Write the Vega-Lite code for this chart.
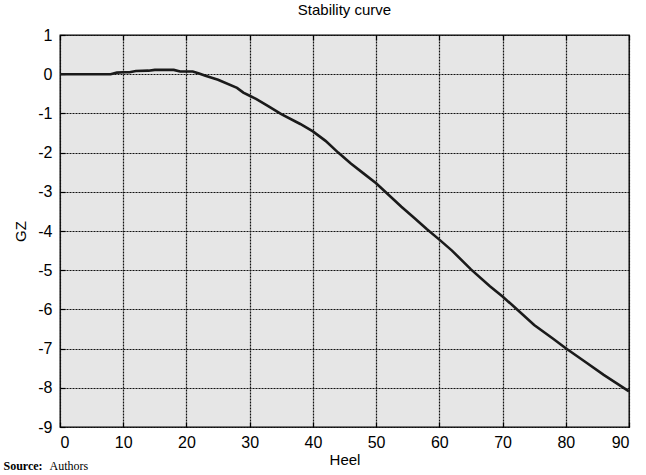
{
  "$schema": "https://vega.github.io/schema/vega-lite/v6.json",
  "autosize": "none",
  "width": 569,
  "height": 392,
  "padding": {"left": 60, "top": 35, "right": 17, "bottom": 48},
  "background": "white",
  "title": {"text": "Stability curve", "font": "Liberation Sans", "fontSize": 15, "fontWeight": "normal", "color": "black", "offset": 9, "anchor": "middle"},
  "config": {
    "view": {"fill": "#e6e6e6", "stroke": "black", "strokeWidth": 1.3},
    "axis": {"labelFont": "Liberation Sans", "labelFontSize": 16, "labelColor": "black", "titleFont": "Liberation Sans", "titleFontSize": 15, "titleFontWeight": "normal", "titleColor": "black", "grid": true, "gridColor": "#111111", "gridOpacity": 1, "gridDash": [2, 1], "gridWidth": 1.2, "domain": false, "ticks": true, "tickSize": -5, "tickColor": "black", "tickWidth": 1.2}
  },
  "data": {"values": [
    {"heel": 0, "gz": 0}, {"heel": 2, "gz": 0}, {"heel": 4, "gz": 0}, {"heel": 6, "gz": 0}, {"heel": 8, "gz": 0},
    {"heel": 9, "gz": 0.04}, {"heel": 10, "gz": 0.05}, {"heel": 11, "gz": 0.05}, {"heel": 12, "gz": 0.08}, {"heel": 14, "gz": 0.09},
    {"heel": 15, "gz": 0.11}, {"heel": 18, "gz": 0.11}, {"heel": 19, "gz": 0.07}, {"heel": 21, "gz": 0.07}, {"heel": 22, "gz": 0.02},
    {"heel": 23, "gz": -0.04}, {"heel": 25, "gz": -0.14}, {"heel": 28, "gz": -0.35}, {"heel": 29, "gz": -0.47}, {"heel": 30, "gz": -0.55},
    {"heel": 31, "gz": -0.63}, {"heel": 33, "gz": -0.82}, {"heel": 35, "gz": -1.02}, {"heel": 38, "gz": -1.27}, {"heel": 40, "gz": -1.46},
    {"heel": 42, "gz": -1.7}, {"heel": 44, "gz": -2.0}, {"heel": 46, "gz": -2.28}, {"heel": 48, "gz": -2.53}, {"heel": 50, "gz": -2.78},
    {"heel": 52, "gz": -3.08}, {"heel": 54, "gz": -3.38}, {"heel": 56, "gz": -3.66}, {"heel": 58, "gz": -3.95}, {"heel": 60, "gz": -4.22},
    {"heel": 62, "gz": -4.5}, {"heel": 65, "gz": -4.98}, {"heel": 68, "gz": -5.41}, {"heel": 70, "gz": -5.67}, {"heel": 72, "gz": -5.96},
    {"heel": 75, "gz": -6.4}, {"heel": 78, "gz": -6.75}, {"heel": 80, "gz": -6.99}, {"heel": 83, "gz": -7.33}, {"heel": 86, "gz": -7.67},
    {"heel": 88, "gz": -7.88}, {"heel": 90, "gz": -8.09}
  ]},
  "resolve": {"axis": {"x": "independent"}},
  "layer": [
    {
      "mark": {"type": "line", "color": "#1a1a1a", "strokeWidth": 2.6},
      "encoding": {
        "x": {"field": "heel", "type": "quantitative", "scale": {"domain": [0, 90], "nice": false}, "axis": {"title": "Heel", "values": [0, 10, 20, 30, 40, 50, 60, 70, 80, 90], "labelPadding": 12, "titlePadding": 2}},
        "y": {"field": "gz", "type": "quantitative", "scale": {"domain": [-9, 1], "nice": false}, "axis": {"title": "GZ", "values": [-9, -8, -7, -6, -5, -4, -3, -2, -1, 0, 1], "labelExpr": "'' + datum.value", "labelPadding": 13, "titlePadding": 9}}
      }
    },
    {
      "mark": {"type": "line", "opacity": 0},
      "encoding": {
        "x": {"field": "heel", "type": "quantitative", "axis": {"title": "Source:", "grid": false, "labels": false, "values": [0, 10, 20, 30, 40, 50, 60, 70, 80, 90], "titleFont": "Liberation Serif", "titleFontSize": 12, "titleFontWeight": "bold", "titleAnchor": "start", "titleAlign": "left", "titleX": -57, "titleY": 434, "titleBaseline": "alphabetic"}},
        "y": {"field": "gz", "type": "quantitative", "axis": {"title": "GZ", "values": [-9, -8, -7, -6, -5, -4, -3, -2, -1, 0, 1], "labelExpr": "'' + datum.value", "labelPadding": 13, "titlePadding": 9}}
      }
    },
    {
      "mark": {"type": "line", "opacity": 0},
      "encoding": {
        "x": {"field": "heel", "type": "quantitative", "axis": {"title": "Authors", "grid": false, "labels": false, "ticks": false, "titleFont": "Liberation Serif", "titleFontSize": 12, "titleFontWeight": "normal", "titleAnchor": "start", "titleAlign": "left", "titleX": -11, "titleY": 434, "titleBaseline": "alphabetic"}},
        "y": {"field": "gz", "type": "quantitative", "axis": {"title": "GZ", "values": [-9, -8, -7, -6, -5, -4, -3, -2, -1, 0, 1], "labelExpr": "'' + datum.value", "labelPadding": 13, "titlePadding": 9}}
      }
    }
  ]
}
